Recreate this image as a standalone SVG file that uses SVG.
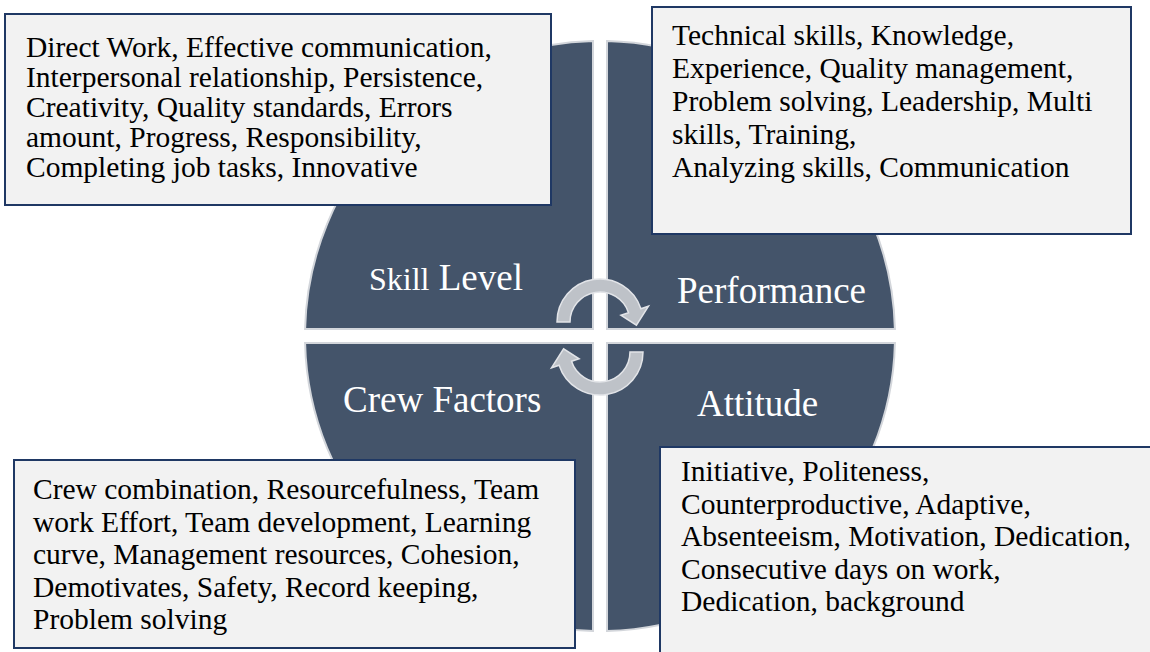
<svg xmlns="http://www.w3.org/2000/svg" width="1150" height="652" viewBox="0 0 1150 652">
  <style>
    .quad { fill: #44546A; stroke: #D3D6DB; stroke-width: 2; }
    .box { fill: #F2F2F2; stroke: #1F3864; stroke-width: 2; }
    .body { font-family: "Liberation Serif", "Times New Roman", serif; font-size: 29.5px; fill: #000000; }
    .label { font-family: "Liberation Serif", "Times New Roman", serif; font-size: 37px; fill: #FFFFFF; }
    .arrow { fill: #BEC2C8; stroke: #E2E4E8; stroke-width: 1.5; }
  </style>
  <rect width="1150" height="652" fill="#FFFFFF"/>

  <g id="quadrants">
    <g id="skill-level">
      <path class="quad" d="M593,329 L305.08,329 A295,295 0 0 1 593,41.08 Z"/>
      <text class="label" x="369" y="290"><tspan font-size="32px">Skill</tspan> Level</text>
    </g>
    <g id="performance">
      <path class="quad" d="M607,329 L607,41.08 A295,295 0 0 1 894.92,329 Z"/>
      <text class="label" x="677" y="303">Performance</text>
    </g>
    <g id="attitude">
      <path class="quad" d="M607,343 L894.92,343 A295,295 0 0 1 607,630.92 Z"/>
      <text class="label" x="697" y="416">Attitude</text>
    </g>
    <g id="crew-factors">
      <path class="quad" d="M593,343 L593,630.92 A295,295 0 0 1 305.08,343 Z"/>
      <text class="label" x="343" y="412">Crew Factors</text>
    </g>
  </g>

  <g id="connectors">
    <path class="arrow" d="M557,322 A43,43 0 0 1 640.9,308.7 L648.5,306.2 L636.4,325.2 L620.9,315.2 L628.5,312.7 A30,30 0 0 0 570,322 Z"/>
    <path class="arrow" d="M643,352 A43,43 0 0 1 559.1,365.3 L551.5,367.8 L563.6,348.8 L579.1,358.8 L571.5,361.3 A30,30 0 0 0 630,352 Z"/>
  </g>

  <g id="box-skill-level">
    <rect class="box" x="5" y="14" width="546" height="191"/>
    <text class="body" x="26">
      <tspan x="26" y="57">Direct Work, Effective communication,</tspan>
      <tspan x="26" y="87">Interpersonal relationship, Persistence,</tspan>
      <tspan x="26" y="117">Creativity, Quality standards, Errors</tspan>
      <tspan x="26" y="147">amount, Progress, Responsibility,</tspan>
      <tspan x="26" y="177">Completing job tasks, Innovative</tspan>
    </text>
  </g>

  <g id="box-performance">
    <rect class="box" x="652" y="7" width="479" height="227"/>
    <text class="body" x="672">
      <tspan x="672" y="45">Technical skills, Knowledge,</tspan>
      <tspan x="672" y="78">Experience, Quality management,</tspan>
      <tspan x="672" y="111">Problem solving, Leadership, Multi</tspan>
      <tspan x="672" y="144">skills, Training,</tspan>
      <tspan x="672" y="177">Analyzing skills, Communication</tspan>
    </text>
  </g>

  <g id="box-crew-factors">
    <rect class="box" x="14" y="460" width="561" height="188"/>
    <text class="body" x="33">
      <tspan x="33" y="499">Crew combination, Resourcefulness, Team</tspan>
      <tspan x="33" y="531.5">work Effort, Team development, Learning</tspan>
      <tspan x="33" y="564">curve, Management resources, Cohesion,</tspan>
      <tspan x="33" y="596.5">Demotivates, Safety, Record keeping,</tspan>
      <tspan x="33" y="629">Problem solving</tspan>
    </text>
  </g>

  <g id="box-attitude">
    <rect class="box" x="660" y="447" width="500" height="215"/>
    <text class="body" x="681">
      <tspan x="681" y="481">Initiative, Politeness,</tspan>
      <tspan x="681" y="513.5">Counterproductive, Adaptive,</tspan>
      <tspan x="681" y="546">Absenteeism, Motivation, Dedication,</tspan>
      <tspan x="681" y="578.5">Consecutive days on work,</tspan>
      <tspan x="681" y="611">Dedication, background</tspan>
    </text>
  </g>
</svg>
